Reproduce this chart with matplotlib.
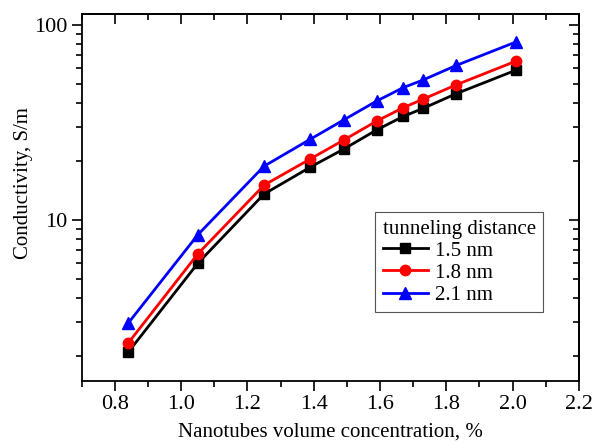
import matplotlib
matplotlib.use("Agg")
import matplotlib.pyplot as plt
from matplotlib.ticker import LogLocator, NullFormatter, MultipleLocator

concentration = [0.84, 1.05, 1.25, 1.39, 1.49, 1.59, 1.67, 1.73, 1.83, 2.01]
sigma_15 = [2.1, 6.0, 13.6, 18.7, 23.1, 29.0, 34.0, 37.4, 44.5, 58.7]
sigma_18 = [2.34, 6.7, 15.1, 20.6, 25.7, 32.2, 37.7, 41.7, 49.4, 65.3]
sigma_21 = [2.96, 8.4, 18.9, 26.0, 32.6, 40.8, 47.8, 52.3, 62.1, 81.9]
series_labels = ["1.5 nm", "1.8 nm", "2.1 nm"]

plt.rcParams.update({
    "font.family": ["Liberation Serif", "DejaVu Serif"],
    "font.size": 16,
})

fig = plt.figure(figsize=(5.93, 4.45), dpi=100)
ax = fig.add_axes([0.138, 0.1445, 0.838, 0.824])

styles = [("black", "s"), ("#ff0000", "o"), ("#0000ff", "^")]
for values, label, (color, marker) in zip(
    (sigma_15, sigma_18, sigma_21), series_labels, styles
):
    ax.plot(concentration, values, color=color, marker=marker, lw=2.0,
            ms=7.5 if marker != "^" else 8.5, label=label)

ax.set_yscale("log")
ax.set_xlim(0.7, 2.2)
ax.set_ylim(1.5, 114)
ax.xaxis.set_major_locator(MultipleLocator(0.2))
ax.xaxis.set_minor_locator(MultipleLocator(0.1))
ax.xaxis.set_major_formatter(plt.FormatStrFormatter("%.1f"))
ax.yaxis.set_major_locator(LogLocator(base=10))
ax.yaxis.set_minor_locator(LogLocator(base=10, subs=range(2, 10)))
ax.yaxis.set_minor_formatter(NullFormatter())
ax.yaxis.set_major_formatter(plt.FuncFormatter(lambda v, p: f"{v:g}"))

for spine in ax.spines.values():
    spine.set_linewidth(1.3)
ax.tick_params(which="both", direction="out", top=False, right=False, width=1.2,
               labelsize=16)
ax.tick_params(which="major", length=7)
ax.tick_params(which="minor", length=4)

# Mirrored inward ticks on top/right
sec_x = ax.secondary_xaxis("top")
sec_x.xaxis.set_major_locator(MultipleLocator(0.2))
sec_x.xaxis.set_minor_locator(MultipleLocator(0.1))
sec_x.tick_params(which="both", direction="in", labeltop=False, width=1.2)
sec_x.tick_params(which="major", length=7)
sec_x.tick_params(which="minor", length=4)
sec_y = ax.secondary_yaxis("right")
sec_y.yaxis.set_major_locator(LogLocator(base=10))
sec_y.yaxis.set_minor_locator(LogLocator(base=10, subs=range(2, 10)))
sec_y.tick_params(which="both", direction="in", labelright=False, width=1.2)
sec_y.tick_params(which="major", length=7)
sec_y.tick_params(which="minor", length=4)
for s in (sec_x, sec_y):
    for spine in s.spines.values():
        spine.set_linewidth(1.3)

ax.set_xlabel("Nanotubes volume concentration, %", labelpad=6, fontsize=15)
ax.set_ylabel("Conductivity, S/m", fontsize=15)
ax.yaxis.set_label_coords(-0.098, 0.54)

leg = ax.legend(title="tunneling distance", loc="lower right",
                bbox_to_anchor=(0.928, 0.187), fancybox=False, edgecolor="#555555",
                framealpha=1, handlelength=2.2, borderpad=0.35, labelspacing=0.12,
                handletextpad=0.3, borderaxespad=0, fontsize=15, title_fontsize=15)
leg._legend_box.align = "left"
leg.get_frame().set_linewidth(0.8)

fig.savefig("out.png", dpi=100)
